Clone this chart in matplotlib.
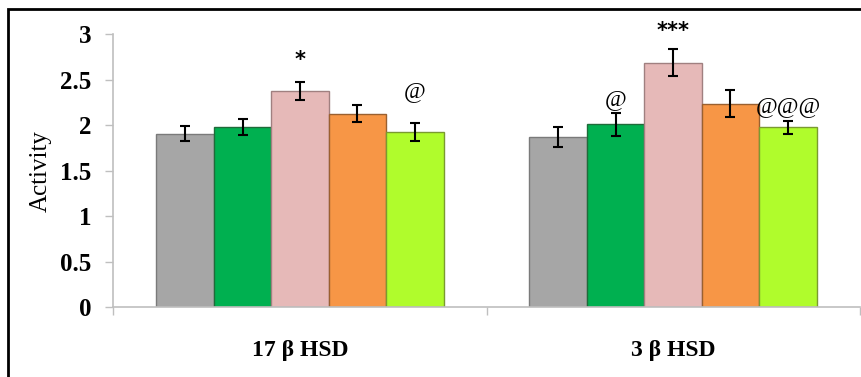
import matplotlib
matplotlib.use("Agg")
import matplotlib.pyplot as plt
import numpy as np
from matplotlib.patches import Rectangle

categories = ["17 \u03b2 HSD", "3 \u03b2 HSD"]
bar_colors = ["#a6a6a6", "#00b050", "#e6b9b8", "#f79646", "#b0fc2c"]
edge_colors = ["#7a7a7a", "#1f6b3a", "#a08080", "#9a6030", "#7a9a30"]

# values per bar (5 bars in each group)
values_17 = [1.91, 1.98, 2.38, 2.13, 1.93]
values_3 = [1.87, 2.01, 2.69, 2.24, 1.98]
errors_17 = [0.08, 0.09, 0.10, 0.09, 0.10]
errors_3 = [0.11, 0.13, 0.15, 0.15, 0.07]

# significance marks: (group, bar, text, y)
marks = [(0, 2, "*", 2.72), (0, 4, "@", 2.37),
         (1, 1, "@", 2.28), (1, 2, "***", 3.04), (1, 4, "@@@", 2.21)]

plt.rcParams['font.family'] = ['Liberation Serif', 'DejaVu Serif']

fig = plt.figure(figsize=(8.61, 3.77), dpi=100)
ax = fig.add_axes([0.1318, 0.1857, 0.8665, 0.7228])

n = len(bar_colors)
width = 0.154
x = np.arange(len(categories))
vals = np.array([values_17, values_3])
errs = np.array([errors_17, errors_3])

for i in range(n):
    pos = x + (i - (n - 1) / 2) * width
    ax.bar(pos, vals[:, i], width, color=bar_colors[i], edgecolor=edge_colors[i],
           linewidth=1.0, zorder=2)
    ax.errorbar(pos, vals[:, i], yerr=errs[:, i], fmt='none', ecolor='black',
                elinewidth=1.5, capsize=3.3, capthick=1.5, zorder=3)

for g, b, txt, y in marks:
    px = x[g] + (b - (n - 1) / 2) * width
    if "*" in txt:
        ax.text(px, y, txt, ha='center', va='center', fontsize=15,
                fontweight='bold', family='DejaVu Sans', clip_on=False)
    else:
        ax.text(px, y, txt, ha='center', va='center', fontsize=17, clip_on=False)

ax.set_xlim(-0.5, 1.5)
ax.set_ylim(0, 3)
ax.set_yticks([0, 0.5, 1, 1.5, 2, 2.5, 3])
ax.set_yticklabels(["0", "0.5", "1", "1.5", "2", "2.5", "3"], fontweight='bold')
ax.set_xticks([-0.5, 0.5, 1.5])
ax.set_xticklabels([])
ax.set_xticks(x, minor=True)
ax.set_xticklabels(categories, minor=True, fontweight='bold')
ax.tick_params(axis='x', which='minor', length=0, pad=24, labelsize=17)
ax.tick_params(axis='x', which='major', length=6, color='#bfbfbf', width=1)
ax.tick_params(axis='y', length=6, color='#bfbfbf', width=1, pad=10, labelsize=18)
ax.set_ylabel("Activity", fontsize=18, labelpad=6)

for s in ['top', 'right']:
    ax.spines[s].set_visible(False)
for s in ['left', 'bottom']:
    ax.spines[s].set_color('#bfbfbf')
    ax.spines[s].set_linewidth(1.2)

# outer frame (cropped at right and bottom)
fig.patches.append(Rectangle((8 / 861, -0.1), 1.2, (377 - 9) / 377 + 0.1,
                             transform=fig.transFigure, fill=False,
                             edgecolor='black', linewidth=2, zorder=10))

fig.savefig("out.png", dpi=100)
